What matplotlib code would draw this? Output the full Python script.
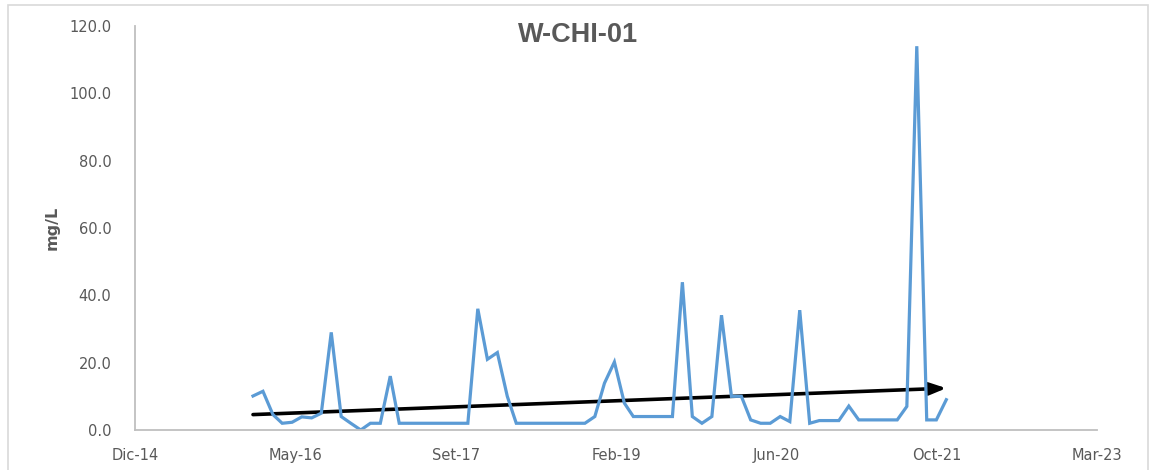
import numpy as np
import matplotlib
matplotlib.use("Agg")
import matplotlib.pyplot as plt
import matplotlib.dates as mdates
from matplotlib.patches import Rectangle
from matplotlib.patches import FancyArrowPatch
import datetime as dt

# ---- data ----
start_month = (2015, 12)
sample_day = 28
values = [10.1, 11.5, 4.6, 2.0, 2.3, 3.9, 3.6, 5.0, 29.0, 4.0,
          2.0, 0.0, 2.0, 2.0, 16.0, 2.0, 2.0, 2.0, 2.0, 2.0,
          2.0, 2.0, 2.0, 36.0, 21.0, 23.0, 10.0, 2.0, 2.0, 2.0,
          2.0, 2.0, 2.0, 2.0, 2.0, 4.0, 13.9, 20.2, 8.0, 4.0,
          4.0, 4.0, 4.0, 4.0, 43.9, 4.0, 2.0, 4.0, 34.1, 10.0,
          10.0, 3.0, 2.0, 2.0, 4.0, 2.5, 35.6, 2.0, 2.8, 2.8,
          2.8, 7.1, 3.0, 3.0, 3.0, 3.0, 3.0, 7.0, 114.0, 3.0,
          3.0, 9.0]
dates = []
y, m = start_month
for _ in values:
    dates.append(dt.date(y, m, sample_day))
    m += 1
    if m > 12:
        m = 1
        y += 1

title = "W-CHI-01"
ylabel = "mg/L"
axis_start = dt.date(2014, 12, 25)
axis_step_days = 500
n_steps = 6
months_es = ['Ene', 'Feb', 'Mar', 'Abr', 'May', 'Jun', 'Jul', 'Ago', 'Set', 'Oct', 'Nov', 'Dic']
yticks = [0, 20, 40, 60, 80, 100, 120]

# ---- figure ----
fig = plt.figure(figsize=(11.52, 4.70), dpi=100)
fig.patch.set_facecolor('white')
fig.patches.append(Rectangle((8/1152, -0.05), (1148-8)/1152, (465/470)+0.05,
                             transform=fig.transFigure, fill=False,
                             edgecolor='#d9d9d9', linewidth=1.2))
ax = fig.add_axes([135/1152, 40/470, 962/1152, 404/470])

xd = mdates.date2num(dates)
ax.plot(xd, values, color='#5b9bd5', linewidth=2.3, solid_joinstyle='miter')

# linear trend
coef = np.polyfit(xd, values, 1)
tx = np.array([xd[0], xd[-1]])
ty = np.polyval(coef, tx)
arrow = FancyArrowPatch((tx[0], ty[0]), (tx[1], ty[1]),
                        arrowstyle='-|>,head_length=0.7,head_width=0.26',
                        mutation_scale=14, color='black', linewidth=2.6,
                        shrinkA=0, shrinkB=0)
ax.add_patch(arrow)

x0 = mdates.date2num(axis_start)
ticks = [x0 + k * axis_step_days for k in range(n_steps + 1)]
labels = []
for t in ticks:
    d = mdates.num2date(t)
    labels.append(f"{months_es[d.month-1]}-{d.strftime('%y')}")
ax.set_xlim(ticks[0], ticks[-1])
ax.set_xticks(ticks)
ax.set_xticklabels(labels)
ax.set_ylim(0, 120)
ax.set_yticks(yticks)
ax.set_yticklabels([f"{v:.1f}" for v in yticks])

for s in ['top', 'right']:
    ax.spines[s].set_visible(False)
for s in ['left', 'bottom']:
    ax.spines[s].set_color('#bfbfbf')
    ax.spines[s].set_linewidth(1.3)
ax.tick_params(axis='both', length=0, colors='#595959', labelsize=10.5)
ax.tick_params(axis='y', pad=17)
ax.tick_params(axis='x', pad=13)

ax.set_ylabel(ylabel, fontsize=11.5, fontweight='bold', color='#595959', labelpad=7)
fig.text(578/1152, 1 - 35/470, title, ha='center', va='center',
         fontsize=19.5, fontweight='bold', color='#595959', family='Liberation Sans')

fig.savefig('out.png', dpi=100)
